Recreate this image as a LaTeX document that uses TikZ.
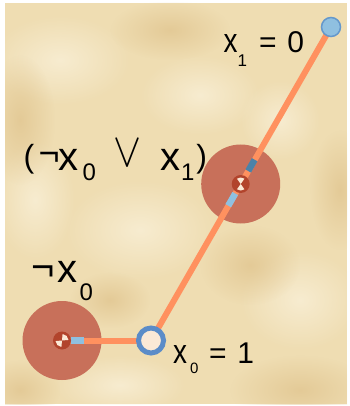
\documentclass[tikz,border=0pt]{standalone}
\usepackage{fontspec}
\setmainfont{Liberation Sans}
\usepackage{graphicx}
\usetikzlibrary{calc,fadings}
\tikzfading[name=softblob, inner color=transparent!0, outer color=transparent!100]
\pgfdeclarelayer{bg}
\pgfdeclarelayer{wires}
\pgfsetlayers{bg,wires,main}
\definecolor{parch}{RGB}{239,221,178}
\definecolor{parchlight}{RGB}{250,241,218}
\definecolor{parchdark}{RGB}{224,196,142}
\definecolor{clausered}{RGB}{200,112,90}
\definecolor{icondark}{RGB}{178,68,44}
\definecolor{cream}{RGB}{251,233,214}
\definecolor{wireorange}{RGB}{255,145,95}
\definecolor{lightblue}{RGB}{143,192,224}
\definecolor{darkblue}{RGB}{74,130,168}
\definecolor{ringblue}{RGB}{91,140,200}
\definecolor{edgeblue}{RGB}{100,152,204}
\newcommand\gl[4]{\rlap{\kern#1pt\raisebox{#2pt}{\fontsize{#3}{#3}\selectfont #4}}}
\newcommand\gx[3]{\rlap{\kern#1pt\raisebox{#2pt}{\scalebox{#3}[1]{\fontsize{34}{34}\selectfont x}}}}
\newcommand\gX[1]{\rlap{\kern#1pt\fontsize{40}{40}\selectfont x}}
\newcommand\orsym[1]{\rlap{\kern#1pt\raisebox{3pt}{\scalebox{4.2}[4.8]{$\vee$}}}}
\begin{document}
\begin{tikzpicture}[x=1pt,y=-1pt,
  clause/.style={circle,minimum size=79pt,inner sep=0pt,fill=clausered},
  iconbase/.style={circle,minimum size=18pt,inner sep=0pt,fill=icondark},
  varone/.style={circle,minimum size=19pt,inner sep=0pt,fill=lightblue,draw=edgeblue,line width=1.5pt},
  varzero/.style={circle,minimum size=25pt,inner sep=0pt,fill=cream,draw=ringblue,line width=5pt},
  wire/.style={draw=wireorange,line width=6pt},
  seglight/.style={draw=lightblue,line width=6.5pt},
  segdark/.style={draw=darkblue,line width=6.5pt},
  lbl/.style={anchor=base west,inner sep=0pt,text=black},
  blob/.style={path fading=softblob,fill opacity=0.75}]
\useasboundingbox (0,0) rectangle (349,406);
\begin{pgfonlayer}{bg}
  \fill[white] (0,0) rectangle (349,406);
  \begin{scope}
  \clip (5,3) rectangle (347,404);
  \fill[parch] (5,3) rectangle (347,404);
  \fill[parchlight,blob] (60,60) ellipse [x radius=70,y radius=45];
  \fill[parchlight,blob] (200,95) ellipse [x radius=60,y radius=40];
  \fill[parchlight,blob] (140,230) ellipse [x radius=75,y radius=50];
  \fill[parchlight,blob] (300,300) ellipse [x radius=60,y radius=50];
  \fill[parchlight,blob] (120,385) ellipse [x radius=65,y radius=30];
  \fill[parchlight,blob] (35,200) ellipse [x radius=40,y radius=60];
  \fill[parchlight,blob] (280,120) ellipse [x radius=40,y radius=40];
  \fill[parchdark,blob] (300,390) ellipse [x radius=70,y radius=35];
  \fill[parchdark,blob] (20,120) ellipse [x radius=35,y radius=65];
  \fill[parchdark,blob] (170,30) ellipse [x radius=60,y radius=30];
  \fill[parchdark,blob] (250,265) ellipse [x radius=50,y radius=40];
  \fill[parchdark,blob] (340,190) ellipse [x radius=30,y radius=60];
  \fill[parchdark,blob] (110,300) ellipse [x radius=40,y radius=28];
  \fill[parchdark,blob] (20,390) ellipse [x radius=40,y radius=30];
  \end{scope}
  \node[clause] (c1) at (240.7,184) {};
  \node[clause] (c0) at (62,340.5) {};
\end{pgfonlayer}
% variable nodes
\node[varone] (x1) at (331,27) {};
\node[varzero] (x0) at (151,340.5) {};
% clause icons
\node[iconbase] (i1) at (c1.center) {};
\node[iconbase] (i0) at (c0.center) {};
\fill[cream] (i1.center) -- ++(55:6.5) arc[start angle=55,end angle=125,radius=6.5] -- cycle;
\fill[cream] (i1.center) -- ++(235:6.5) arc[start angle=235,end angle=305,radius=6.5] -- cycle;
\fill[cream] (i0.center) -- ++(-85:6.5) arc[start angle=-85,end angle=-5,radius=6.5] -- cycle;
\fill[cream] (i0.center) -- ++(95:6.5) arc[start angle=95,end angle=175,radius=6.5] -- cycle;
% wires
\begin{pgfonlayer}{wires}
  \draw[wire] (x1.center) -- (x0.center);
  \draw[wire] (x0.center) -- (c0.center);
  \draw[segdark] ($(c1.center)!15pt!(x1.center)$) -- ($(c1.center)!28pt!(x1.center)$);
  \draw[seglight] ($(c1.center)!11pt!(x0.center)$) -- ($(c1.center)!25pt!(x0.center)$);
  \draw[seglight] ($(c0.center)!9pt!(x0.center)$) -- ($(c0.center)!22pt!(x0.center)$);
\end{pgfonlayer}
% labels
\node[lbl] (lx1) at (0,53) {\gx{223}{0}{0.82}\gl{237}{-14}{17}{1}\gl{258.5}{0}{30}{=}\gl{286.7}{0}{30}{0}};
\node[lbl] (lclause) at (0,170) {\gl{23}{3}{32}{(}\gl{38}{5}{36}{¬}\gX{57.5}\gl{82}{-10}{24}{0}\orsym{113}\gX{159.6}\gl{180.4}{-10}{24}{1}\gl{195.7}{3}{32}{)}};
\node[lbl] (lneg) at (0,282) {\gl{31}{2}{40}{¬}\gX{56.5}\gl{79}{-18}{24}{0}};
\node[lbl] (lx0) at (0,363.3) {\gx{172.5}{0}{0.82}\gl{189.4}{-10}{15}{0}\gl{208.5}{0}{30}{=}\gl{236.7}{0}{30}{1}};
\end{tikzpicture}
\end{document}
